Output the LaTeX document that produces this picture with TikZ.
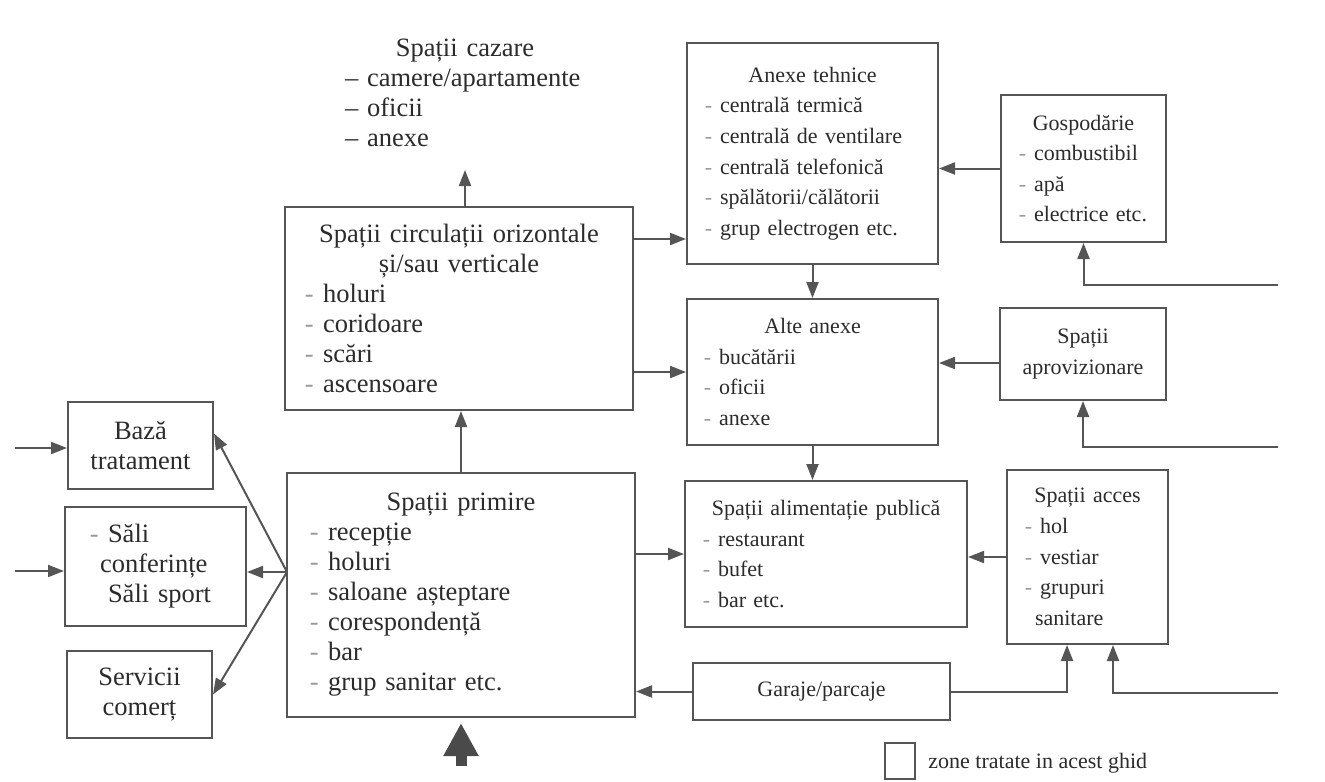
\documentclass[tikz,border=0pt]{standalone}
\usepackage{fontspec}
\setmainfont{Liberation Serif}
\usetikzlibrary{arrows.meta,calc}
\definecolor{ln}{HTML}{555555}
\definecolor{tx}{HTML}{2B2B2B}
\definecolor{dsh}{HTML}{9A9A9A}
\definecolor{bigc}{HTML}{4A4A4A}
\newcommand{\bigf}{\fontsize{13.25pt}{15pt}\selectfont}
\newcommand{\smf}{\fontsize{11pt}{15.3pt}\selectfont}
\newcommand{\li}[2]{\hspace*{#1}\llap{\textcolor{dsh}{-}\hspace{0.35em}}#2\par}
\newcommand{\ti}[1]{{\centering #1\par}}
\setlength{\parindent}{0pt}
\begin{document}
\begin{tikzpicture}[x=0.5pt,y=-0.5pt,
  box/.style={draw=ln, line width=1pt, inner sep=0pt, text=tx},
  arr/.style={draw=ln, line width=1pt, -{Triangle[length=8pt,width=6pt]}},
  bigarr/.style={draw=bigc, line width=5.5pt, -{Triangle[length=16.5pt,width=16.5pt]}},
  plain/.style={inner sep=0pt, text=tx}]
\useasboundingbox (0,0) rectangle (1325,781);

% left / centre column (larger text)
\node[plain, text width=120pt, font=\bigf] (caz) at (465,93)
  {\ti{Spații cazare}\raggedright
   -- camere/apartamente\par
   -- oficii\par
   -- anexe\par};

\node[box, minimum width=174pt, minimum height=101.5pt, text width=174pt, font=\bigf] (circ) at (459,308.5)
  {\ti{Spații circulații orizontale}\ti{și/sau verticale}\raggedright
   \li{19pt}{holuri}\li{19pt}{coridoare}\li{19pt}{scări}\li{19pt}{ascensoare}};

\node[box, minimum width=174pt, minimum height=122pt, text width=174pt, font=\bigf] (prim) at (461,595)
  {\ti{Spații primire}\raggedright
   \li{20.5pt}{recepție}\li{20.5pt}{holuri}\li{20.5pt}{saloane așteptare}\li{20.5pt}{corespondență}\li{20.5pt}{bar}\li{20.5pt}{grup sanitar etc.}};

\node[box, minimum width=72.5pt, minimum height=43.5pt, text width=72.5pt, font=\bigf] (baza) at (140.5,445.5)
  {\ti{Bază\\tratament}};

\node[box, minimum width=90.5pt, minimum height=59.5pt, text width=90.5pt, font=\bigf] (sali) at (155.5,566.5)
  {\raggedright\li{21.5pt}{Săli}\hspace*{17.5pt}conferințe\par\hspace*{21.5pt}Săli sport\par};

\node[box, minimum width=72.5pt, minimum height=43.5pt, text width=72.5pt, font=\bigf] (serv) at (139.5,694.5)
  {\ti{Servicii\\comerț}};

% right columns (smaller text)
\node[box, minimum width=125.5pt, minimum height=110.5pt, text width=125.5pt, font=\smf] (tech) at (812.5,153.5)
  {\ti{Anexe tehnice}\raggedright
   \li{16.5pt}{centrală termică}\li{16.5pt}{centrală de ventilare}\li{16.5pt}{centrală telefonică}\li{16.5pt}{spălătorii/călătorii}\li{16.5pt}{grup electrogen etc.}};

\node[box, minimum width=82.5pt, minimum height=73.5pt, text width=82.5pt, font=\smf] (gosp) at (1083.5,168.5)
  {\ti{Gospodărie}\raggedright
   \li{16.5pt}{combustibil}\li{16.5pt}{apă}\li{16.5pt}{electrice etc.}};

\node[box, minimum width=125.5pt, minimum height=73pt, text width=125.5pt, font=\smf] (alte) at (812.5,372)
  {\ti{Alte anexe}\raggedright
   \li{16pt}{bucătării}\li{16pt}{oficii}\li{16pt}{anexe}};

\node[box, minimum width=83pt, minimum height=46pt, text width=83pt, font=\smf] (aprov) at (1083,354)
  {\ti{Spații\\aprovizionare}};

\node[box, minimum width=141pt, minimum height=73pt, text width=141pt, font=\smf] (alim) at (826,554)
  {\ti{Spații alimentație publică}\raggedright
   \li{16.5pt}{restaurant}\li{16.5pt}{bufet}\li{16.5pt}{bar etc.}};

\node[box, minimum width=80.5pt, minimum height=87pt, text width=80.5pt, font=\smf] (acces) at (1087.5,557)
  {\ti{Spații acces}\raggedright
   \li{16.5pt}{hol}\li{16.5pt}{vestiar}\li{16.5pt}{grupuri}\hspace*{14pt}sanitare\par};

\node[box, minimum width=128.5pt, minimum height=28.5pt, font=\smf] (gar) at (821.5,691.5) {Garaje/parcaje};

% legend
\node[box, minimum width=15pt, minimum height=18pt] (leg) at (900,761) {};
\node[plain, font=\smf, anchor=west] (legt) at (928,763) {zone tratate in acest ghid};

% free ends and helper points
\coordinate (cazin) at (465,170);
\coordinate (inL1) at (15,448);
\coordinate (inL2) at (15,571);
\coordinate (inR1) at (1278,285);
\coordinate (inR2) at (1278,447);
\coordinate (inR3) at (1278,693);
\coordinate (fan) at (287,572);
\coordinate (bigsrc) at ($(prim.south)+(0,48)$);
\coordinate (c1) at ($(circ.north east)+(0,33)$);
\coordinate (a1) at ($(aprov.west)+(0,9)$);
\coordinate (b1) at ($(baza.east)+(0,-12)$);
\coordinate (s1) at ($(acces.south)+(-20.5,0)$);
\coordinate (s2) at ($(acces.south)+(25.5,0)$);

% connectors
\draw[arr] (circ.north -| cazin) -- (cazin);
\draw[arr] (prim.north) -- (prim.north |- circ.south);
\draw[arr] (c1) -- (c1 -| tech.west);
\draw[arr] (circ.east |- alte.west) -- (alte.west);
\draw[arr] (tech.south) -- (tech.south |- alte.north);
\draw[arr] (alte.south) -- (alte.south |- alim.north);
\draw[arr] (prim.east |- alim.west) -- (alim.west);
\draw[arr] (gosp.west) -- (gosp.west -| tech.east);
\draw[arr] (a1) -- (a1 -| alte.east);
\draw[arr] (acces.west) -- (acces.west -| alim.east);
\draw[arr] (gar.west) -- (gar.west -| prim.east);
\draw[arr] (gar.east) -| (s1);
\draw[arr] (inR3) -| (s2);
\draw[arr] (inR1) -| (gosp.south);
\draw[arr] (inR2) -| (aprov.south);
\draw[arr] (inL1) -- (inL1 -| baza.west);
\draw[arr] (inL2) -- (inL2 -| sali.west);
\draw[arr] (fan) -- (b1);
\draw[arr] (fan) -- (fan -| sali.east);
\draw[arr] (fan) -- (serv.east);
\draw[bigarr, shorten >=2.5pt] (bigsrc) -- (prim.south);
\end{tikzpicture}
\end{document}
